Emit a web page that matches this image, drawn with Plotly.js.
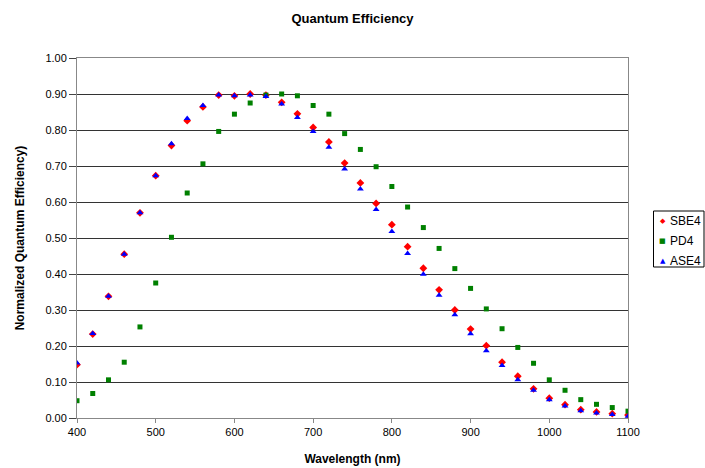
<!DOCTYPE html>
<html>
<head>
<meta charset="utf-8">
<script src="https://cdn.plot.ly/plotly-3.0.1.min.js"></script>
<style>
  html, body { margin: 0; padding: 0; background: #fff; }
  #chart { width: 705px; height: 468px; }
</style>
</head>
<body>
<div id="chart"></div>
<script>
// Wavelengths sampled every 20 nm
const wavelength = [400, 420, 440, 460, 480, 500, 520, 540, 560, 580, 600, 620,
  640, 660, 680, 700, 720, 740, 760, 780, 800, 820, 840, 860,
  880, 900, 920, 940, 960, 980, 1000, 1020, 1040, 1060, 1080, 1100];

const sbe4 = [0.148, 0.233, 0.338, 0.455, 0.570, 0.673, 0.757, 0.826, 0.864, 0.897, 0.895, 0.900,
  0.897, 0.877, 0.845, 0.807, 0.767, 0.708, 0.653, 0.596, 0.537, 0.476, 0.416, 0.356,
  0.300, 0.247, 0.201, 0.155, 0.116, 0.081, 0.055, 0.037, 0.023, 0.017, 0.012, 0.008];

const pd4 = [0.048, 0.068, 0.106, 0.155, 0.253, 0.375, 0.502, 0.625, 0.706, 0.796, 0.844, 0.875,
  0.897, 0.900, 0.895, 0.868, 0.844, 0.790, 0.746, 0.698, 0.643, 0.586, 0.529, 0.471,
  0.415, 0.360, 0.303, 0.248, 0.196, 0.152, 0.106, 0.077, 0.051, 0.038, 0.029, 0.019];

const ase4 = [0.153, 0.235, 0.338, 0.455, 0.570, 0.673, 0.762, 0.832, 0.868, 0.897, 0.895, 0.897,
  0.893, 0.872, 0.835, 0.796, 0.752, 0.692, 0.636, 0.579, 0.518, 0.457, 0.399, 0.341,
  0.287, 0.234, 0.187, 0.146, 0.106, 0.077, 0.051, 0.033, 0.020, 0.014, 0.010, 0.005];

const yTicks = [0, 0.1, 0.2, 0.3, 0.4, 0.5, 0.6, 0.7, 0.8, 0.9, 1.0];

const seriesNames = ['SBE4', 'PD4', 'ASE4'];
const seriesColors = ['#ff0000', '#008000', '#0000ff'];
const seriesSymbols = ['diamond', 'square', 'triangle-up'];
const legendGlyphs = ['\u25C6', '\u25A0', '\u25B2'];

const font = 'Arial, "Liberation Sans", sans-serif';

const seriesData = [sbe4, pd4, ase4];
const markerSizes = [6, 5, 6];

const traces = seriesData.map((ys, i) => ({
  name: seriesNames[i], x: wavelength, y: ys, type: 'scatter', mode: 'markers',
  marker: { symbol: seriesSymbols[i], size: markerSizes[i], color: seriesColors[i] }
}));

// Plot area: 77..628 px horizontally, 58..418 px vertically
const plotL = 77, plotW = 551, plotT = 58, plotH = 360;
const px = v => (v - plotL) / plotW;
const py = v => (plotT + plotH - v) / plotH;

// Compact key box to the right of the plot
const keyRows = [221, 241, 260.5];
const annotations = [];
keyRows.forEach((rowY, i) => {
  annotations.push({
    xref: 'paper', yref: 'paper', x: px(662.5), y: py(rowY),
    xanchor: 'center', yanchor: 'middle', showarrow: false,
    text: legendGlyphs[i], font: { family: '"DejaVu Sans", sans-serif', size: 7, color: seriesColors[i] }
  });
  annotations.push({
    xref: 'paper', yref: 'paper', x: px(668), y: py(rowY),
    xanchor: 'left', yanchor: 'middle', showarrow: false,
    text: seriesNames[i], font: { family: font, size: 12, color: '#000' }
  });
});

const layout = {
  width: 705,
  height: 468,
  margin: { l: plotL, r: 705 - plotL - plotW, t: plotT, b: 468 - plotT - plotH },
  paper_bgcolor: '#ffffff',
  plot_bgcolor: '#ffffff',
  font: { family: font, size: 11, color: '#000' },
  title: {
    text: '<b>Quantum Efficiency</b>',
    font: { family: font, size: 13, color: '#000' },
    x: 0.5, xanchor: 'center', y: 0.96, yanchor: 'middle'
  },
  showlegend: false,
  annotations: annotations,
  shapes: [{
    type: 'rect', xref: 'paper', yref: 'paper',
    x0: px(653.5), x1: px(704), y0: py(211), y1: py(267),
    line: { color: '#000', width: 1 }, fillcolor: 'rgba(0,0,0,0)'
  }],
  xaxis: {
    range: [400, 1100], dtick: 100, tick0: 400,
    showgrid: false, zeroline: false,
    showline: true, linecolor: '#888', linewidth: 1, mirror: true,
    ticks: 'outside', ticklen: 4, tickcolor: '#888',
    tickfont: { family: font, size: 11, color: '#000' },
    title: { text: '<b>Wavelength (nm)</b>', font: { family: font, size: 12, color: '#000' }, standoff: 17 }
  },
  yaxis: {
    range: [0, 1], tickvals: yTicks, tickformat: '.2f',
    showgrid: true, gridcolor: '#333', gridwidth: 1, zeroline: false,
    showline: true, linecolor: '#888', linewidth: 1, mirror: true,
    ticks: 'outside', ticklen: 7, tickcolor: '#444',
    tickfont: { family: font, size: 11, color: '#000' },
    title: { text: '<b>Normalized Quantum Efficiency)</b>', font: { family: font, size: 12, color: '#000' }, standoff: 18 }
  }
};

Plotly.newPlot('chart', traces, layout, { displayModeBar: false, staticPlot: true });
</script>
</body>
</html>
